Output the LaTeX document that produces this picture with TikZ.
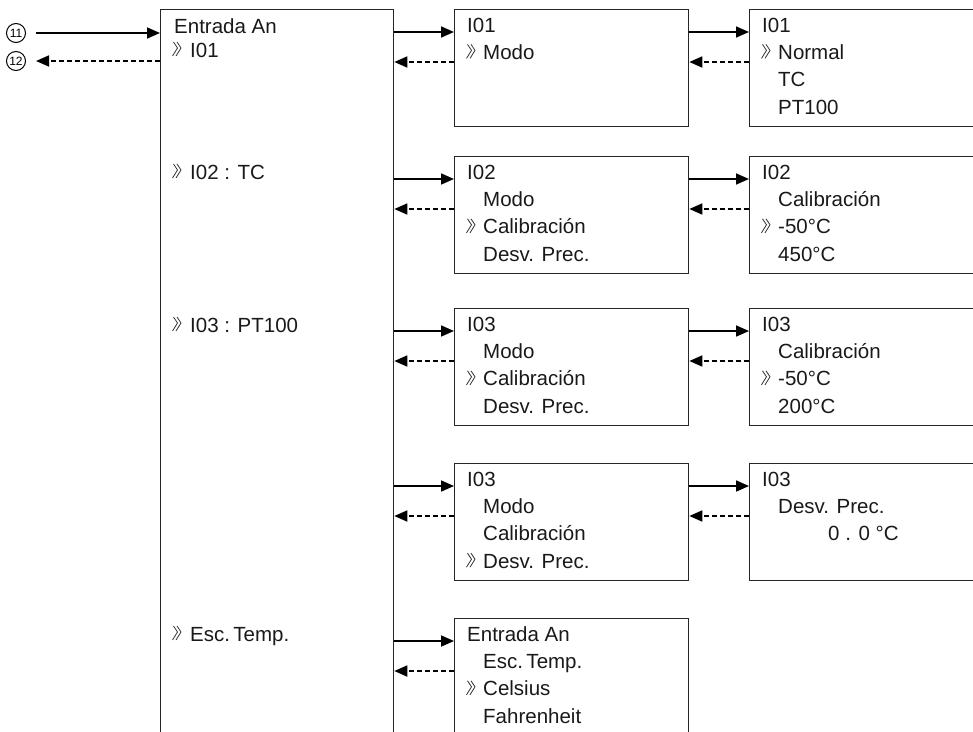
\documentclass[tikz,border=0pt]{standalone}
\usepackage{fontspec}
\setmainfont{Liberation Sans}
\usetikzlibrary{arrows.meta}

\tikzset{
  chev/.pic={\draw[line width=0.8pt,black!80] (1.5,-15) -- (5.5,-9) -- (0.5,-1) (5,-15) -- (9,-9) -- (4,-1);}
}

% header line, then items, chevron on item #3
\newcommand\menutext[4]{%
  \node[txt] (#1-0) at ([shift={(13,23)}]#1.north west) {#2};
  \foreach \t [count=\i] in {#4}
    \node[txt] (#1-\i) at ([shift={(29,23+27.4*\i)}]#1.north west) {\t};
  \pic at ([shift={(12,23+27.4*#3)}]#1.north west) {chev};
}

\begin{document}
\begin{tikzpicture}[x=1pt,y=-1pt,
  menu/.style={draw=black!85,line width=1.3pt,anchor=north west,inner sep=0pt,minimum width=234pt,minimum height=117pt},
  txt/.style={anchor=base west,inner sep=0pt,font=\fontsize{20.5}{23}\selectfont,text=black!90},
  go/.style={-{Triangle[length=13pt,width=11pt]},line width=1.7pt},
  back/.style={go,dash pattern=on 5pt off 3pt},
  num/.style={draw,circle,line width=1pt,minimum size=19pt,inner sep=0pt,font=\fontsize{12}{12}\selectfont}]
\useasboundingbox (0,0) rectangle (973,731);
\clip (0,0) rectangle (973,731);

% main menu
\node[menu,minimum width=233pt,minimum height=740pt] (main) at (160,9) {};
\node[txt] (main-0) at (174,33) {Entrada An};
\node[txt] (main-1) at (190,57) {I01};
\node[txt] (main-2) at (190,179) {I02 : TC};
\node[txt] (main-3) at (190,332) {I03 : PT100};
\node[txt] (main-4) at (190,641) {Esc.\,Temp.};
\foreach \y in {57,179,332,641}
  \pic at (172,\y) {chev};

% in / out
\node[num] (n11) at (16,33) {11};
\node[num] (n12) at (16,61) {12};
\draw[go] ([xshift=10pt]n11.east) -- (main.west |- n11);
\draw[back] (main.west |- n12) -- ([xshift=10pt]n12.east);

% second column
\node[menu] (m1) at (454,9) {};
\node[menu] (m2) at (454,156) {};
\node[menu] (m3) at (454,308) {};
\node[menu] (m4) at (454,463) {};
\node[menu,minimum height=140pt] (m5) at (454,618) {};
\menutext{m1}{I01}{1}{Modo}
\menutext{m2}{I02}{2}{Modo,Calibración,Desv. Prec.}
\menutext{m3}{I03}{2}{Modo,Calibración,Desv. Prec.}
\menutext{m4}{I03}{3}{Modo,Calibración,Desv. Prec.}
\menutext{m5}{Entrada An}{2}{Esc.\,Temp.,Celsius,Fahrenheit}

% third column
\node[menu,minimum width=260pt] (v1) at (749,9) {};
\node[menu,minimum width=260pt] (v2) at (749,156) {};
\node[menu,minimum width=260pt] (v3) at (749,308) {};
\node[menu,minimum width=260pt] (v4) at (749,463) {};
\menutext{v1}{I01}{1}{Normal,TC,PT100}
\menutext{v2}{I02}{2}{Calibración,-50°C,450°C}
\menutext{v3}{I03}{2}{Calibración,-50°C,200°C}
\node[txt] (v4-0) at ([shift={(13,23)}]v4.north west) {I03};
\node[txt] (v4-1) at ([shift={(29,50.4)}]v4.north west) {Desv. Prec.};
\node[txt] (v4-2) at ([shift={(79,77.8)}]v4.north west) {0 . 0 °C};

% arrows
\foreach \b in {1,...,5}{
  \coordinate (a\b) at ([yshift=-23pt]m\b.north west);
  \coordinate (d\b) at ([yshift=-53pt]m\b.north west);
  \draw[go] (main.east |- a\b) -- (a\b);
  \draw[back] (d\b) -- (main.east |- d\b);
}
\foreach \b in {1,...,4}{
  \coordinate (b\b) at ([yshift=-23pt]v\b.north west);
  \coordinate (e\b) at ([yshift=-53pt]v\b.north west);
  \draw[go] (m\b.east |- b\b) -- (b\b);
  \draw[back] (e\b) -- (m\b.east |- e\b);
}
\end{tikzpicture}
\end{document}
